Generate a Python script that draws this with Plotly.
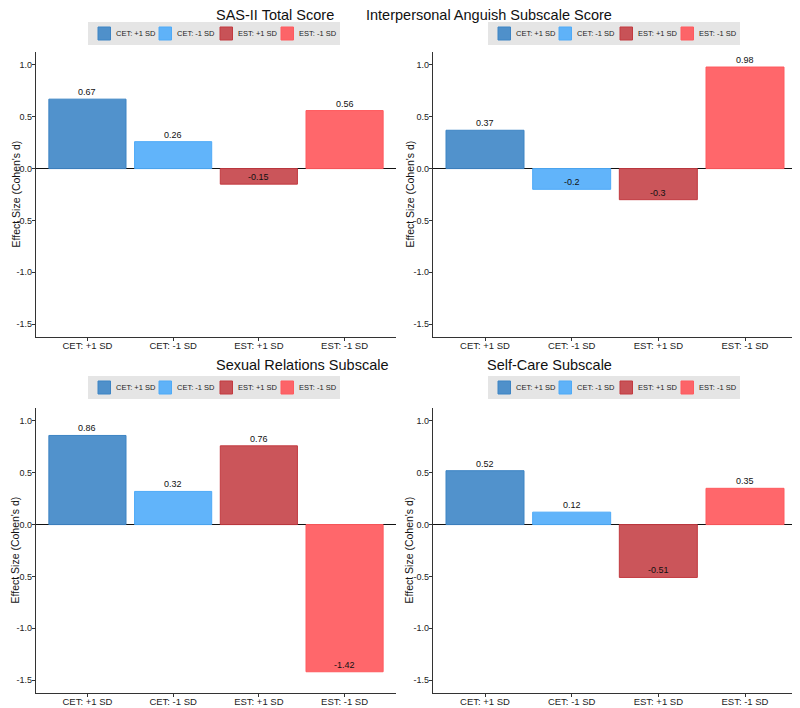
import plotly.graph_objects as go
from plotly.subplots import make_subplots

# groups shown on the x axis of every panel
groups = ["CET: +1 SD", "CET: -1 SD", "EST: +1 SD", "EST: -1 SD"]

panel_titles = [
    "SAS-II Total Score",
    "Interpersonal Anguish Subscale Score",
    "Sexual Relations Subscale",
    "Self-Care Subscale",
]

# effect sizes (Cohen's d) per panel, in the order of groups
sas_total = [0.67, 0.26, -0.15, 0.56]
interpersonal_anguish = [0.37, -0.2, -0.3, 0.98]
sexual_relations = [0.86, 0.32, 0.76, -1.42]
self_care = [0.52, 0.12, -0.51, 0.35]

y_ticks = [-1.5, -1.0, -0.5, 0.0, 0.5, 1.0]
y_tick_labels = ["-1.5", "-1.0", "-0.5", "0.0", "0.5", "1.0"]
y_title = "Effect Size (Cohen's d)"

FILL = ["rgba(62,134,198,0.9)", "rgba(80,172,250,0.9)",
        "rgba(196,62,67,0.88)", "rgba(255,82,86,0.88)"]
EDGE = ["#3d84c4", "#4eaaf7", "#c23a40", "#ff5a5e"]
FONT = "Liberation Sans, Arial, sans-serif"

# the page body keeps an 8px margin, so the figure is a bit smaller than the window
OFF = 8
W, H = 800 - OFF, 708 - OFF


def px_x(rx):
    return (rx - OFF) / W


def px_y(ry):
    return 1 - (ry - OFF) / H


panels = [sas_total, interpersonal_anguish, sexual_relations, self_care]

# panel placement (window pixels -> paper)
x_domains = [[px_x(36), px_x(396)], [px_x(433), px_x(797)]]
y_domains = [[px_y(337), px_y(52)], [px_y(693), px_y(408)]]

fig = make_subplots(rows=2, cols=2)


def add_legend(center_px, top_px):
    # ggplot-like legend strip: grey box, square keys, small labels
    step, box_w, box_h = 61, 252, 23
    left = center_px - box_w / 2
    fig.add_shape(type="rect", xref="paper", yref="paper",
                  x0=px_x(left), x1=px_x(left + box_w),
                  y0=px_y(top_px + box_h), y1=px_y(top_px),
                  fillcolor="#e5e5e5", line=dict(width=0), layer="below")
    for i, g in enumerate(groups):
        kx = left + 10 + i * step
        fig.add_shape(type="rect", xref="paper", yref="paper",
                      x0=px_x(kx), x1=px_x(kx + 12.5),
                      y0=px_y(top_px + 18), y1=px_y(top_px + 5),
                      fillcolor=FILL[i], line=dict(color=EDGE[i], width=1))
        fig.add_annotation(xref="paper", yref="paper",
                           x=px_x(kx + 16), y=px_y(top_px + 11.5),
                           xanchor="left", yanchor="middle", showarrow=False,
                           text=g, font=dict(family=FONT, size=7.5, color="#222"))


for p, values in enumerate(panels):
    row, col = p // 2 + 1, p % 2 + 1
    for i, (g, v) in enumerate(zip(groups, values)):
        fig.add_trace(
            go.Bar(
                x=[g], y=[v], name=g, width=0.9,
                marker=dict(color=FILL[i], line=dict(color=EDGE[i], width=1)),
                showlegend=False, hoverinfo="skip",
            ),
            row=row, col=col,
        )
        fig.add_annotation(
            x=g, y=v, text=f"{v:g}", showarrow=False,
            yanchor="bottom", yshift=0,
            font=dict(family=FONT, size=9, color="#111"),
            row=row, col=col,
        )

    xd = x_domains[col - 1]
    yd = y_domains[row - 1]
    center_px = 214 if col == 1 else 614
    if row == 1:
        # title hugs the top edge of the figure
        fig.add_annotation(
            xref="paper", yref="paper", x=px_x(center_px), y=1,
            text=panel_titles[p], showarrow=False, yanchor="top", yshift=3,
            font=dict(family=FONT, size=14.5, color="#111"),
        )
        add_legend(center_px, 22)
    else:
        fig.add_annotation(
            xref="paper", yref="paper", x=px_x(center_px), y=px_y(365),
            text=panel_titles[p], showarrow=False, yanchor="middle",
            font=dict(family=FONT, size=14.5, color="#111"),
        )
        add_legend(center_px, 376)

    # y axis title, rotated, at the left edge of each panel
    fig.add_annotation(
        xref="paper", yref="paper",
        x=px_x(8 if col == 1 else 402), y=(yd[0] + yd[1]) / 2,
        text=y_title, textangle=-90, showarrow=False,
        xanchor="left", yanchor="middle", borderpad=0,
        font=dict(family=FONT, size=10.5, color="#111"),
    )

    fig.update_xaxes(
        domain=xd, range=[-0.6, 3.6], categoryorder="array", categoryarray=groups,
        showline=True, linecolor="#333", linewidth=1.2,
        ticks="outside", ticklen=3, tickcolor="#333", ticklabelstandoff=-4,
        tickfont=dict(family=FONT, size=9.5, color="#222"),
        showgrid=False, automargin=False, row=row, col=col,
    )
    fig.update_yaxes(
        domain=yd, range=[-1.625, 1.125],
        tickvals=y_ticks, ticktext=y_tick_labels,
        showline=True, linecolor="#333", linewidth=1.2,
        ticks="outside", ticklen=3, tickcolor="#333", ticklabelstandoff=-2,
        tickfont=dict(family=FONT, size=9, color="#222"),
        showgrid=False, zeroline=True, zerolinecolor="#111", zerolinewidth=1.2,
        automargin=False, row=row, col=col,
    )

fig.update_layout(
    width=W, height=H,
    margin=dict(l=0, r=0, t=0, b=0),
    barmode="overlay", showlegend=False,
    plot_bgcolor="white", paper_bgcolor="white",
    font=dict(family=FONT),
)

fig.write_html("out.html")
